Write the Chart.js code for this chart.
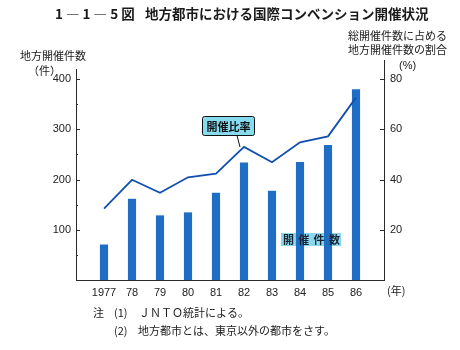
<!DOCTYPE html>
<html><head><meta charset="utf-8">
<script src="https://cdn.jsdelivr.net/npm/chart.js@4"></script>
<style>html,body{margin:0;padding:0;background:#fff}#wrap{width:460px;height:350px;position:relative}</style>
</head><body><div id="wrap"><canvas id="c" width="460" height="350"></canvas></div>
<script>
const years = [1977, 1978, 1979, 1980, 1981, 1982, 1983, 1984, 1985, 1986];
const yearLabels = ['1977', '78', '79', '80', '81', '82', '83', '84', '85', '86'];
const counts = [70, 161, 128, 134, 173, 233, 177, 234, 268, 379];
const ratios = [28.4, 39.9, 34.7, 40.9, 42.3, 53.0, 46.9, 54.8, 57.2, 72.6];
const leftTicks = [100, 200, 300, 400];
const leftMinor = [50, 150, 250, 350];
const rightTicks = [20, 40, 60, 80];

const CJK = '"Noto Sans CJK JP", sans-serif';
const AX = '#2a2a2a';

const deco = {
  id: 'deco',
  beforeDatasetsDraw(chart) {
    const ctx = chart.ctx;
    ctx.save();
    ctx.fillStyle = '#8ad8ee';
    ctx.fillRect(281, 233, 60, 13);
    ctx.restore();
  },
  afterDatasetsDraw(chart) {
    const ctx = chart.ctx;
    const ca = chart.chartArea;
    const yl = chart.scales.y, yr = chart.scales.y1;
    ctx.save();
    ctx.strokeStyle = AX; ctx.lineWidth = 1;
    leftTicks.forEach(v => { const p = Math.round(yl.getPixelForValue(v)) + 0.5; ctx.beginPath(); ctx.moveTo(ca.left, p); ctx.lineTo(ca.left + 4, p); ctx.stroke(); });
    leftMinor.forEach(v => { const p = Math.round(yl.getPixelForValue(v)) + 0.5; ctx.beginPath(); ctx.moveTo(ca.left, p); ctx.lineTo(ca.left + 2, p); ctx.stroke(); });
    rightTicks.forEach(v => { const p = Math.round(yr.getPixelForValue(v)) + 0.5; ctx.beginPath(); ctx.moveTo(ca.right - 4, p); ctx.lineTo(ca.right + 1, p); ctx.stroke(); });
    ctx.beginPath(); ctx.moveTo(ca.right + 0.5, 60); ctx.lineTo(ca.right + 0.5, ca.top); ctx.stroke();
    ctx.fillStyle = '#1a2433';
    ctx.font = 'bold 11px ' + CJK;
    ctx.textBaseline = 'middle'; ctx.textAlign = 'left';
    const lab = ['開', '催', '件', '数'];
    lab.forEach((ch, i) => ctx.fillText(ch, 283 + i * 15.3, 240));
    ctx.fillStyle = '#86dbef';
    ctx.strokeStyle = '#111';
    ctx.beginPath();
    if (ctx.roundRect) ctx.roundRect(202.5, 116.5, 52, 19, 2); else ctx.rect(202.5, 116.5, 52, 19);
    ctx.fill(); ctx.stroke();
    ctx.beginPath(); ctx.moveTo(237, 135.5); ctx.lineTo(240, 147); ctx.stroke();
    ctx.fillStyle = '#111';
    ctx.font = 'bold 11px ' + CJK;
    ctx.textAlign = 'center';
    ctx.fillText('開催比率', 228.5, 126.5);
    ctx.restore();
  },
  afterDraw(chart) {
    const ctx = chart.ctx;
    ctx.save();
    ctx.fillStyle = '#1a1a1a';
    ctx.textBaseline = 'middle';
    ctx.textAlign = 'left';
    ctx.font = 'bold 13.5px ' + CJK;
    ctx.fillText('1 ― 1 ― 5 図', 55, 14);
    ctx.fillText('地方都市における国際コンベンション開催状況', 145, 14);
    ctx.font = '11px ' + CJK;
    ctx.fillText('地方開催件数', 20, 56);
    ctx.fillText('（件）', 28, 71);
    ctx.fillText('総開催件数に占める', 348, 36);
    ctx.fillText('地方開催件数の割合', 348, 50);
    ctx.font = '11px "Liberation Sans", sans-serif';
    ctx.fillText('(%)', 399, 66);
    ctx.font = '11px ' + CJK;
    ctx.fillText('(年)', 387, 291);
    ctx.fillText('注', 93, 313);
    ctx.fillText('(1)', 114, 313);
    ctx.fillText('ＪＮＴＯ統計による。', 139, 313);
    ctx.fillText('(2)', 114, 331);
    ctx.fillText('地方都市とは、東京以外の都市をさす。', 138, 331);
    ctx.restore();
  }
};

new Chart(document.getElementById('c'), {
  type: 'bar',
  data: {
    datasets: [
      {
        type: 'line', label: '開催比率', yAxisID: 'y1', order: 0,
        data: years.map((x, i) => ({ x, y: ratios[i] })),
        borderColor: '#114fae', borderWidth: 1.8, pointRadius: 0, tension: 0, fill: false
      },
      {
        type: 'bar', label: '開催件数', yAxisID: 'y', order: 1,
        data: years.map((x, i) => ({ x, y: counts[i] })),
        backgroundColor: '#1e6ec6', barThickness: 7.5
      }
    ]
  },
  options: {
    responsive: false, animation: false,
    layout: { padding: { top: 69, left: 0, right: 0, bottom: 0 } },
    plugins: { legend: { display: false }, tooltip: { enabled: false } },
    scales: {
      x: {
        type: 'linear', min: 1976, max: 1987, offset: false,
        grid: { display: false, drawTicks: false },
        border: { display: true, color: AX, width: 1 },
        afterFit(s) { s.height = 70; },
        afterBuildTicks(s) { s.ticks = years.map(v => ({ value: v })); },
        ticks: {
          autoSkip: false, maxRotation: 0, padding: 6,
          color: '#222', font: { family: '"Liberation Sans", sans-serif', size: 11 },
          callback(v) { const i = years.indexOf(v); return i >= 0 ? yearLabels[i] : ''; }
        }
      },
      y: {
        position: 'left', min: 0, max: 420,
        grid: { display: false, drawTicks: false },
        border: { display: true, color: AX, width: 1 },
        afterFit(s) { s.width = 76; },
        afterBuildTicks(s) { s.ticks = leftTicks.map(v => ({ value: v })); },
        ticks: {
          padding: 5, color: '#222', autoSkip: false,
          font: { family: '"Liberation Sans", sans-serif', size: 11 },
          callback(v) { return String(v); }
        }
      },
      y1: {
        position: 'right', min: 0, max: 84,
        grid: { display: false, drawTicks: false },
        border: { display: true, color: AX, width: 1 },
        afterFit(s) { s.width = 76; },
        afterBuildTicks(s) { s.ticks = rightTicks.map(v => ({ value: v })); },
        ticks: {
          padding: 6, color: '#222', autoSkip: false,
          font: { family: '"Liberation Sans", sans-serif', size: 11 },
          callback(v) { return String(v); }
        }
      }
    }
  },
  plugins: [deco]
});
</script>
</body></html>
